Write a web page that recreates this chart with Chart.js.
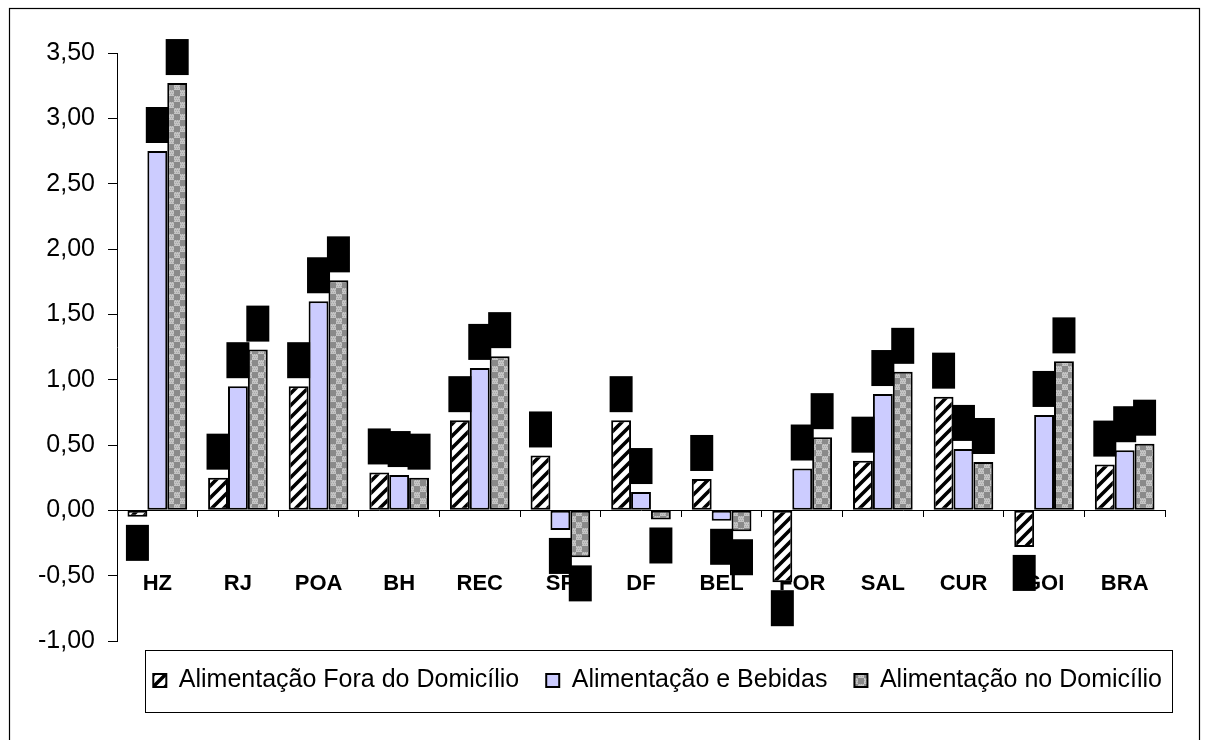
<!DOCTYPE html>
<html>
<head>
<meta charset="utf-8">
<script src="https://cdn.jsdelivr.net/npm/chart.js@4.4.1/dist/chart.umd.min.js"></script>
<style>
  html, body { margin: 0; padding: 0; background: #ffffff; }
  #wrap { position: relative; width: 1206px; height: 740px; }
  canvas { display: block; }
</style>
</head>
<body>
<div id="wrap"><canvas id="c" width="1206" height="740"></canvas></div>
<script>
// ---- Data ----
const categories = ['HZ', 'RJ', 'POA', 'BH', 'REC', 'SP', 'DF', 'BEL', 'FOR', 'SAL', 'CUR', 'GOI', 'BRA'];
const seriesNames = ['Alimentação Fora do Domicílio', 'Alimentação e Bebidas', 'Alimentação no Domicílio'];
const foraDomicilio = [-0.05, 0.25, 0.95, 0.29, 0.69, 0.42, 0.69, 0.24, -0.55, 0.38, 0.87, -0.28, 0.35];
const alimBebidas   = [2.75, 0.95, 1.60, 0.27, 1.09, -0.15, 0.14, -0.08, 0.32, 0.89, 0.47, 0.73, 0.46];
const noDomicilio   = [3.27, 1.23, 1.76, 0.25, 1.18, -0.36, -0.07, -0.16, 0.56, 1.06, 0.37, 1.14, 0.51];
const yMin = -1.0, yMax = 3.5, yStep = 0.5;

// ---- Patterns ----
function hatchPattern() {
  const s = 12, c = document.createElement('canvas');
  c.width = s; c.height = s;
  const g = c.getContext('2d');
  g.fillStyle = '#ffffff'; g.fillRect(0, 0, s, s);
  g.strokeStyle = '#000000'; g.lineWidth = 3.6; g.lineCap = 'square';
  g.beginPath();
  g.moveTo(-2, s + 2); g.lineTo(s + 2, -2);
  g.moveTo(-s / 2 - 2, s / 2 + 2); g.lineTo(s / 2 + 2, -s / 2 - 2);
  g.moveTo(s / 2 - 2, s * 1.5 + 2); g.lineTo(s * 1.5 + 2, s / 2 - 2);
  g.stroke();
  return g.createPattern(c, 'repeat');
}
function checkPattern() {
  const s = 12, c = document.createElement('canvas');
  c.width = s; c.height = s;
  const g = c.getContext('2d');
  g.fillStyle = '#c4c4c4'; g.fillRect(0, 0, s, s);
  g.fillStyle = '#8a8a8a';
  g.fillRect(0, 0, 6, 6); g.fillRect(6, 6, 6, 6);
  g.fillStyle = '#a8a8a8';
  for (let y = 0; y < s; y += 2) for (let x = (y % 4 === 0 ? 0 : 1); x < s; x += 2) {
    if ((x >= 6) !== (y >= 6)) g.fillRect(x, y, 1, 1);
  }
  return g.createPattern(c, 'repeat');
}

const fmt = v => v.toFixed(2).replace('.', ',');

// ---- Plugins ----
const framePlugin = {
  id: 'frame',
  beforeDraw(chart) {
    const ctx = chart.ctx;
    ctx.save();
    ctx.fillStyle = '#ffffff';
    ctx.fillRect(0, 0, chart.width, chart.height);
    ctx.strokeStyle = '#000000';
    ctx.lineWidth = 1.2;
    ctx.strokeRect(9.5, 8.5, 1190, 760);
    ctx.restore();
  },
  afterDraw(chart) {
    const lg = chart.legend;
    if (!lg || !lg.legendHitBoxes || !lg.legendHitBoxes.length) return;
    const hb = lg.legendHitBoxes;
    const first = hb[0], last = hb[hb.length - 1];
    const ctx = chart.ctx;
    const left = first.left - 8, right = last.left + last.width + 10;
    const midY = first.top + first.height / 2;
    ctx.save();
    ctx.strokeStyle = '#000000';
    ctx.lineWidth = 1;
    ctx.strokeRect(Math.round(left) + 0.5, Math.round(midY - 31) + 0.5, Math.round(right - left), 62);
    ctx.restore();
  }
};

const labelBoxPlugin = {
  id: 'labelBoxes',
  afterDatasetsDraw(chart) {
    const ctx = chart.ctx;
    ctx.save();
    ctx.fillStyle = '#000000';
    chart.data.datasets.forEach((ds, i) => {
      const meta = chart.getDatasetMeta(i);
      meta.data.forEach((el, j) => {
        const v = ds.data[j];
        const w = 23, h = 36, gap = 8;
        const x = el.x - w / 2;
        const y = v >= 0 ? el.y - gap - h : el.y + gap;
        ctx.fillRect(x, y, w, h);
      });
    });
    ctx.restore();
  }
};

// ---- Chart ----
const FONT = 'Liberation Sans, Arial, sans-serif';
const ctx = document.getElementById('c').getContext('2d');
new Chart(ctx, {
  type: 'bar',
  data: {
    labels: categories,
    datasets: [
      { label: seriesNames[0], data: foraDomicilio, backgroundColor: hatchPattern(), borderColor: '#000000', borderWidth: 2, borderSkipped: false },
      { label: seriesNames[1], data: alimBebidas, backgroundColor: '#ccccff', borderColor: '#000000', borderWidth: 2, borderSkipped: false },
      { label: seriesNames[2], data: noDomicilio, backgroundColor: checkPattern(), borderColor: '#000000', borderWidth: 2, borderSkipped: false }
    ]
  },
  options: {
    responsive: false,
    animation: false,
    devicePixelRatio: 1,
    layout: { padding: { left: 10, right: 17, top: 53, bottom: 37 } },
    datasets: { bar: { categoryPercentage: 0.74, barPercentage: 1.0 } },
    scales: {
      y: {
        min: yMin, max: yMax,
        ticks: {
          stepSize: yStep,
          color: '#000000',
          font: { family: FONT, size: 25 },
          padding: 13,
          callback: v => fmt(v)
        },
        grid: { display: true, drawOnChartArea: false, drawTicks: true, tickLength: 9, color: '#000000' },
        border: { display: true, color: '#000000', width: 1 },
        afterFit: s => { s.width = 107; }
      },
      yRight: {
        type: 'linear',
        position: 'right',
        display: true,
        ticks: { display: false },
        grid: { display: false },
        border: { display: false },
        afterFit: s => { s.width = 24; }
      },
      x: {
        position: { y: 0 },
        offset: true,
        ticks: {
          color: '#000000',
          font: { family: FONT, size: 22, weight: 'bold' },
          padding: 54,
          maxRotation: 0, autoSkip: false
        },
        grid: { display: true, drawOnChartArea: false, drawTicks: true, tickLength: 6, offset: true, color: '#000000' },
        border: { display: true, color: '#000000', width: 1 }
      }
    },
    plugins: {
      tooltip: { enabled: false },
      legend: {
        position: 'bottom',
        align: 'end',
        labels: {
          color: '#000000',
          font: { family: FONT, size: 25 },
          boxWidth: 13, boxHeight: 13,
          padding: 27
        }
      }
    }
  },
  plugins: [framePlugin, labelBoxPlugin]
});
</script>
</body>
</html>
